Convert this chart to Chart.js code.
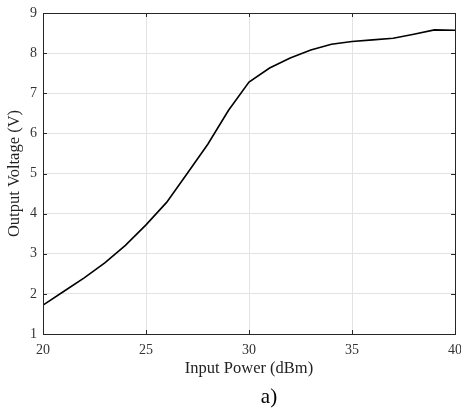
<!DOCTYPE html>
<html>
<head>
<meta charset="utf-8">
<script src="https://cdn.jsdelivr.net/npm/chart.js@4/dist/chart.umd.min.js"></script>
<style>
  html, body { margin: 0; padding: 0; background: #fff; }
  #wrap { width: 461px; height: 409px; }
</style>
</head>
<body>
<div id="wrap"><canvas id="chart" width="461" height="409"></canvas></div>
<script>
  // values
  const inputPower = [20, 21, 22, 23, 24, 25, 26, 27, 28, 29, 30, 31, 32, 33, 34, 35, 36, 37, 38, 39, 40];
  const outputVoltage = [1.72, 2.06, 2.4, 2.77, 3.21, 3.72, 4.28, 5.0, 5.73, 6.57, 7.28, 7.63, 7.88, 8.08, 8.22, 8.29, 8.33, 8.37, 8.47, 8.58, 8.57];
  const xTicks = [20, 25, 30, 35, 40];
  const yTicks = [1, 2, 3, 4, 5, 6, 7, 8, 9];
  const caption = 'a)';

  const serif = '"Liberation Serif", "Times New Roman", serif';
  const axisColor = '#262626';

  // box around the plot + inward tick marks (matlab style), caption under it
  const framePlugin = {
    id: 'frame',
    afterDatasetsDraw(chart) {
      const { ctx, chartArea: a, scales } = chart;
      ctx.save();
      ctx.strokeStyle = axisColor;
      ctx.lineWidth = 1;
      ctx.beginPath();
      xTicks.forEach(v => {
        const px = Math.round(scales.x.getPixelForValue(v)) + 0.5;
        ctx.moveTo(px, a.bottom); ctx.lineTo(px, a.bottom - 4);
        ctx.moveTo(px, a.top); ctx.lineTo(px, a.top + 4);
      });
      yTicks.forEach(v => {
        const py = Math.round(scales.y.getPixelForValue(v)) + 0.5;
        ctx.moveTo(a.left, py); ctx.lineTo(a.left + 4, py);
        ctx.moveTo(a.right, py); ctx.lineTo(a.right - 4, py);
      });
      ctx.stroke();
      ctx.strokeRect(Math.round(a.left) + 0.5, Math.round(a.top) + 0.5,
        Math.round(a.right - a.left), Math.round(a.bottom - a.top));

      ctx.fillStyle = '#000';
      ctx.font = '21px ' + serif;
      ctx.textAlign = 'center';
      ctx.textBaseline = 'middle';
      ctx.fillText(caption, (a.left + a.right) / 2 + 20, 397);
      ctx.restore();
    }
  };

  new Chart(document.getElementById('chart'), {
    type: 'line',
    data: {
      datasets: [{
        data: inputPower.map((x, i) => ({ x, y: outputVoltage[i] })),
        borderColor: '#000',
        borderWidth: 1.6,
        pointRadius: 0,
        tension: 0,
        fill: false
      }]
    },
    options: {
      responsive: false,
      animation: false,
      layout: { padding: { top: 13, right: 6, left: 0, bottom: 28 } },
      plugins: {
        legend: { display: false },
        tooltip: { enabled: false }
      },
      scales: {
        x: {
          type: 'linear',
          min: 20, max: 40,
          afterBuildTicks(s) { s.ticks = xTicks.map(v => ({ value: v })); },
          afterFit(s) { s.height = 47; s.paddingLeft = 0; s.paddingRight = 0; },
          grid: { color: '#e3e3e3', drawTicks: false },
          border: { display: false },
          ticks: { color: '#333', padding: 8, maxRotation: 0, font: { family: serif, size: 14 } },
          title: {
            display: true,
            text: 'Input Power (dBm)',
            color: '#222',
            font: { family: serif, size: 16.5 },
            padding: { top: 0, bottom: 2 }
          }
        },
        y: {
          min: 1, max: 9,
          afterBuildTicks(s) { s.ticks = yTicks.map(v => ({ value: v })); },
          afterFit(s) { s.width = 43; s.paddingTop = 0; s.paddingBottom = 0; },
          grid: { color: '#e3e3e3', drawTicks: false },
          border: { display: false },
          ticks: { color: '#333', padding: 6, font: { family: serif, size: 14 } },
          title: {
            display: true,
            text: 'Output Voltage (V)',
            color: '#222',
            font: { family: serif, size: 16.5 },
            padding: { top: 5, bottom: 0 }
          }
        }
      }
    },
    plugins: [framePlugin]
  });
</script>
</body>
</html>
